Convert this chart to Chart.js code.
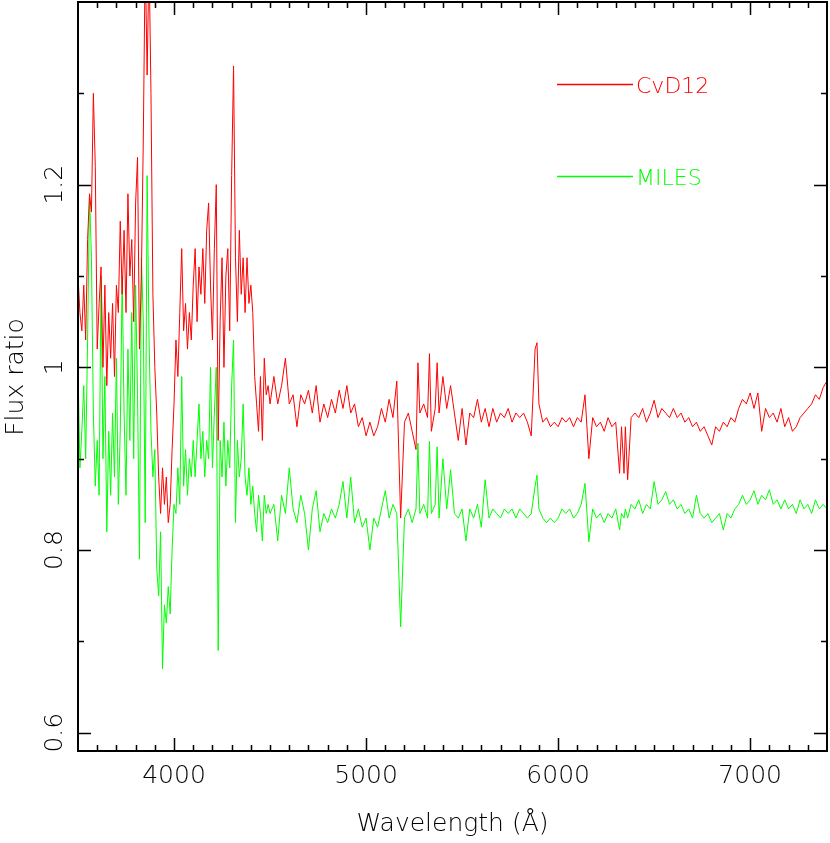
<!DOCTYPE html>
<html>
<head>
<meta charset="utf-8">
<title>Flux ratio</title>
<script src="https://cdn.jsdelivr.net/npm/chart.js@4.4.1/dist/chart.umd.min.js"></script>
<style>
  body { margin: 0; background: #fff; }
  #caja { width: 830px; height: 843px; }
</style>
</head>
<body>
<div id="caja"><canvas id="grafico" width="830" height="843"></canvas></div>
<script>
// Longitudes de onda (Å)
const longitudes = [
  3500,3510,3520,3530,3540,3550,3560,3570,3580,3590,
  3600,3610,3620,3630,3640,3650,3660,3670,3680,3690,
  3700,3710,3720,3730,3740,3750,3760,3770,3780,3790,
  3800,3810,3820,3830,3840,3850,3860,3870,3880,3890,
  3900,3910,3920,3930,3940,3950,3960,3970,3980,3990,
  4000,4010,4020,4030,4040,4050,4060,4070,4080,4090,
  4100,4110,4120,4130,4140,4150,4160,4170,4180,4190,
  4200,4210,4220,4230,4240,4250,4260,4270,4280,4290,
  4300,4310,4320,4330,4340,4350,4360,4370,4380,4390,
  4400,4410,4420,4430,4440,4450,4460,4470,4480,4490,
  4500,
  4520,4540,4560,4580,4600,4620,4640,4660,4680,4700,
  4720,4740,4760,4780,4800,4820,4840,4860,4880,4900,
  4920,4940,4960,4980,5000,5020,5040,5060,5080,5100,
  5120,5140,5160,
  5180,5200,5220,5240,5260,5270,5280,5300,5320,5330,5340,5360,5370,5380,5400,
  5420,5440,5460,5480,5500,5520,5540,5560,5580,5600,
  5620,5640,5660,5680,5700,5720,5740,5760,5780,5800,
  5820,5840,5860,
  5880,5890,5900,
  5920,5940,5960,5980,6000,6020,6040,6060,6080,6100,
  6120,6140,6160,6180,6200,6220,6240,6260,6280,6300,
  6320,6330,6343,6350,6362,
  6380,6400,6420,6440,6460,6480,6500,6520,6540,6560,
  6580,6600,6620,6640,6660,6680,6700,6720,6740,6760,
  6780,6800,6820,6840,6860,6880,6900,6920,6940,6960,
  6980,7000,7020,7040,7060,7080,7100,7120,7140,7160,
  7180,7200,7220,7240,7260,7280,7300,7320,7340,7360,
  7380,7400
];

// Cociente de flujo CvD12 (rojo)
const fluxCvD12 = [
  1.10,1.06,1.04,1.09,1.03,1.14,1.19,1.17,1.30,1.22,
  1.02,1.07,1.11,1.00,1.09,0.98,1.06,1.01,1.07,0.99,
  1.09,1.06,1.16,1.08,1.15,1.06,1.19,1.10,1.14,1.05,
  1.18,1.23,1.02,1.10,1.25,1.45,1.32,1.45,1.30,1.08,
  1.00,0.95,0.88,0.84,0.89,0.85,0.88,0.83,0.85,0.91,
  0.96,1.03,0.99,1.06,1.13,1.04,1.07,1.02,1.06,1.03,
  1.09,1.13,1.05,1.11,1.08,1.13,1.07,1.15,1.18,1.09,
  1.03,1.13,1.20,0.92,1.05,1.12,1.00,1.10,1.13,1.04,
  1.21,1.33,1.12,1.05,1.15,1.08,1.12,1.06,1.12,1.07,
  1.09,1.06,0.99,0.96,0.93,0.99,0.92,1.01,0.97,0.98,
  0.96,
  0.99,0.96,0.98,1.01,0.96,0.97,0.935,0.97,0.96,0.975,
  0.95,0.98,0.94,0.96,0.945,0.965,0.95,0.975,0.955,0.98,
  0.95,0.96,0.935,0.945,0.925,0.94,0.925,0.935,0.955,0.94,
  0.965,0.945,0.985,
  0.835,0.94,0.95,0.93,0.91,1.005,0.95,0.96,0.945,1.015,0.93,0.955,1.005,0.95,0.99,
  0.955,0.98,0.95,0.92,0.955,0.915,0.95,0.945,0.965,0.94,
  0.955,0.935,0.955,0.94,0.95,0.945,0.955,0.94,0.95,0.945,
  0.95,0.94,0.925,
  1.02,1.027,0.96,
  0.94,0.945,0.935,0.94,0.935,0.945,0.94,0.945,0.935,0.945,
  0.94,0.97,0.90,0.945,0.935,0.94,0.93,0.945,0.935,0.94,
  0.884,0.935,0.884,0.935,0.877,
  0.945,0.95,0.945,0.955,0.94,0.95,0.964,0.945,0.955,0.95,
  0.945,0.955,0.945,0.95,0.94,0.945,0.935,0.94,0.93,0.935,
  0.925,0.915,0.935,0.93,0.94,0.935,0.945,0.94,0.955,0.965,
  0.96,0.972,0.955,0.972,0.93,0.955,0.945,0.95,0.94,0.955,
  0.935,0.945,0.93,0.935,0.945,0.95,0.955,0.96,0.97,0.965,
  0.978,0.985
];

// Cociente de flujo MILES (verde)
const fluxMILES = [
  1.00,0.89,0.93,0.98,0.90,1.03,1.19,1.12,0.95,0.87,
  0.92,0.86,1.10,0.90,0.99,0.82,0.93,0.86,0.95,0.88,
  1.01,0.85,0.93,1.10,0.95,0.86,1.02,0.92,1.06,0.90,
  1.09,0.97,0.79,1.12,1.05,0.83,1.21,1.03,0.93,0.88,
  0.91,0.78,0.75,0.82,0.67,0.74,0.72,0.76,0.73,0.80,
  0.85,0.84,0.89,0.85,0.99,0.87,0.91,0.86,0.90,0.88,
  0.92,0.88,0.92,0.96,0.90,0.93,0.88,0.92,0.90,1.00,
  0.89,0.95,1.00,0.69,0.92,0.88,0.94,0.87,0.92,0.89,
  0.98,1.03,0.83,0.92,0.88,0.90,0.96,0.88,0.86,0.89,
  0.85,0.87,0.84,0.82,0.86,0.84,0.81,0.86,0.84,0.85,
  0.84,
  0.85,0.81,0.86,0.84,0.89,0.845,0.83,0.86,0.84,0.80,
  0.845,0.865,0.82,0.84,0.83,0.845,0.835,0.85,0.875,0.835,
  0.88,0.83,0.845,0.825,0.835,0.80,0.835,0.825,0.845,0.865,
  0.835,0.85,0.84,
  0.716,0.835,0.845,0.83,0.845,0.917,0.84,0.85,0.835,0.919,0.84,0.85,0.913,0.835,0.90,
  0.845,0.888,0.84,0.835,0.845,0.81,0.845,0.835,0.85,0.825,
  0.877,0.835,0.845,0.84,0.835,0.845,0.84,0.845,0.835,0.845,
  0.84,0.835,0.84,
  0.87,0.882,0.845,
  0.835,0.83,0.835,0.83,0.835,0.845,0.84,0.845,0.835,0.84,
  0.85,0.873,0.809,0.845,0.835,0.84,0.83,0.84,0.835,0.845,
  0.822,0.84,0.835,0.845,0.835,
  0.85,0.845,0.855,0.84,0.85,0.845,0.875,0.85,0.855,0.864,
  0.85,0.855,0.845,0.85,0.84,0.845,0.835,0.86,0.84,0.835,
  0.84,0.83,0.835,0.84,0.822,0.84,0.835,0.845,0.85,0.86,
  0.85,0.855,0.865,0.85,0.86,0.855,0.866,0.85,0.855,0.845,
  0.855,0.845,0.85,0.84,0.855,0.845,0.85,0.84,0.855,0.845,
  0.85,0.845
];

// Marcas de los ejes
const ticksX = [4000, 5000, 6000, 7000];
const etiquetasX = ['4000', '5000', '6000', '7000'];
const ticksY = [0.6, 0.8, 1.0, 1.2];
const etiquetasY = ['0.6', '0.8', '1', '1.2'];

const fuente = '200 25px "DejaVu Sans", "Liberation Sans", sans-serif';
const fuenteLeyenda = '200 22px "DejaVu Sans", "Liberation Sans", sans-serif';

// Dibuja el marco, las marcas, los textos y la leyenda
const marcoPlugin = {
  id: 'marco',
  afterDraw(chart) {
    const ctx = chart.ctx;
    const a = chart.chartArea;
    const sx = chart.scales.x;
    const sy = chart.scales.y;
    ctx.save();

    // Marcas menores y mayores en los cuatro lados
    ctx.strokeStyle = '#000';
    ctx.lineWidth = 1.5;
    ctx.beginPath();
    for (let w = 3600; w < 7400; w += 100) {
      const px = Math.round(sx.getPixelForValue(w)) + 0.5;
      const largo = (w % 1000 === 0) ? 13 : 6;
      ctx.moveTo(px, a.bottom); ctx.lineTo(px, a.bottom - largo);
      ctx.moveTo(px, a.top); ctx.lineTo(px, a.top + largo);
    }
    for (let i = 6; i <= 13; i++) {
      const py = Math.round(sy.getPixelForValue(i / 10)) + 0.5;
      const largo = (i % 2 === 0) ? 13 : 6;
      ctx.moveTo(a.left, py); ctx.lineTo(a.left + largo, py);
      ctx.moveTo(a.right, py); ctx.lineTo(a.right - largo, py);
    }
    ctx.stroke();

    // Marco
    ctx.lineWidth = 2;
    ctx.strokeRect(a.left, a.top, a.right - a.left, a.bottom - a.top);

    // Etiquetas del eje X
    ctx.fillStyle = '#000';
    ctx.font = fuente;
    ctx.textAlign = 'center';
    ctx.textBaseline = 'alphabetic';
    ticksX.forEach((w, i) => {
      ctx.fillText(etiquetasX[i], sx.getPixelForValue(w), 783);
    });
    ctx.fillText('Wavelength (Å)', (a.left + a.right) / 2, 831);

    // Etiquetas del eje Y (giradas)
    ticksY.forEach((v, i) => {
      ctx.save();
      ctx.translate(62, sy.getPixelForValue(v));
      ctx.rotate(-Math.PI / 2);
      ctx.fillText(etiquetasY[i], 0, 0);
      ctx.restore();
    });
    ctx.save();
    ctx.translate(23, 377);
    ctx.rotate(-Math.PI / 2);
    ctx.fillText('Flux ratio', 0, 0);
    ctx.restore();

    // Leyenda
    ctx.font = fuenteLeyenda;
    ctx.textAlign = 'left';
    chart.data.datasets.forEach((ds, i) => {
      const yy = [84.5, 176.5][i];
      ctx.strokeStyle = ds.borderColor;
      ctx.lineWidth = 1.5;
      ctx.beginPath();
      ctx.moveTo(557, yy); ctx.lineTo(633, yy);
      ctx.stroke();
      ctx.fillStyle = ds.borderColor;
      ctx.fillText(ds.label, 636, yy + 8.5);
    });
    ctx.restore();
  }
};

const ctx = document.getElementById('grafico').getContext('2d');
const chart = new Chart(ctx, {
  type: 'line',
  data: {
    datasets: [
      {
        label: 'CvD12',
        data: longitudes.map((w, i) => ({x: w, y: fluxCvD12[i]})),
        borderColor: '#ff0000',
        borderWidth: 1,
        pointRadius: 0,
        tension: 0
      },
      {
        label: 'MILES',
        data: longitudes.map((w, i) => ({x: w, y: fluxMILES[i]})),
        borderColor: '#00ff00',
        borderWidth: 1,
        pointRadius: 0,
        tension: 0
      }
    ]
  },
  options: {
    responsive: false,
    devicePixelRatio: 1,
    animation: false,
    events: [],
    layout: {padding: {left: 78, right: 3, top: 2, bottom: 92}},
    plugins: {legend: {display: false}, tooltip: {enabled: false}},
    scales: {
      x: {type: 'linear', min: 3500, max: 7400, display: false},
      y: {type: 'linear', min: 0.58, max: 1.40, display: false}
    }
  },
  plugins: [marcoPlugin]
});
</script>
</body>
</html>
